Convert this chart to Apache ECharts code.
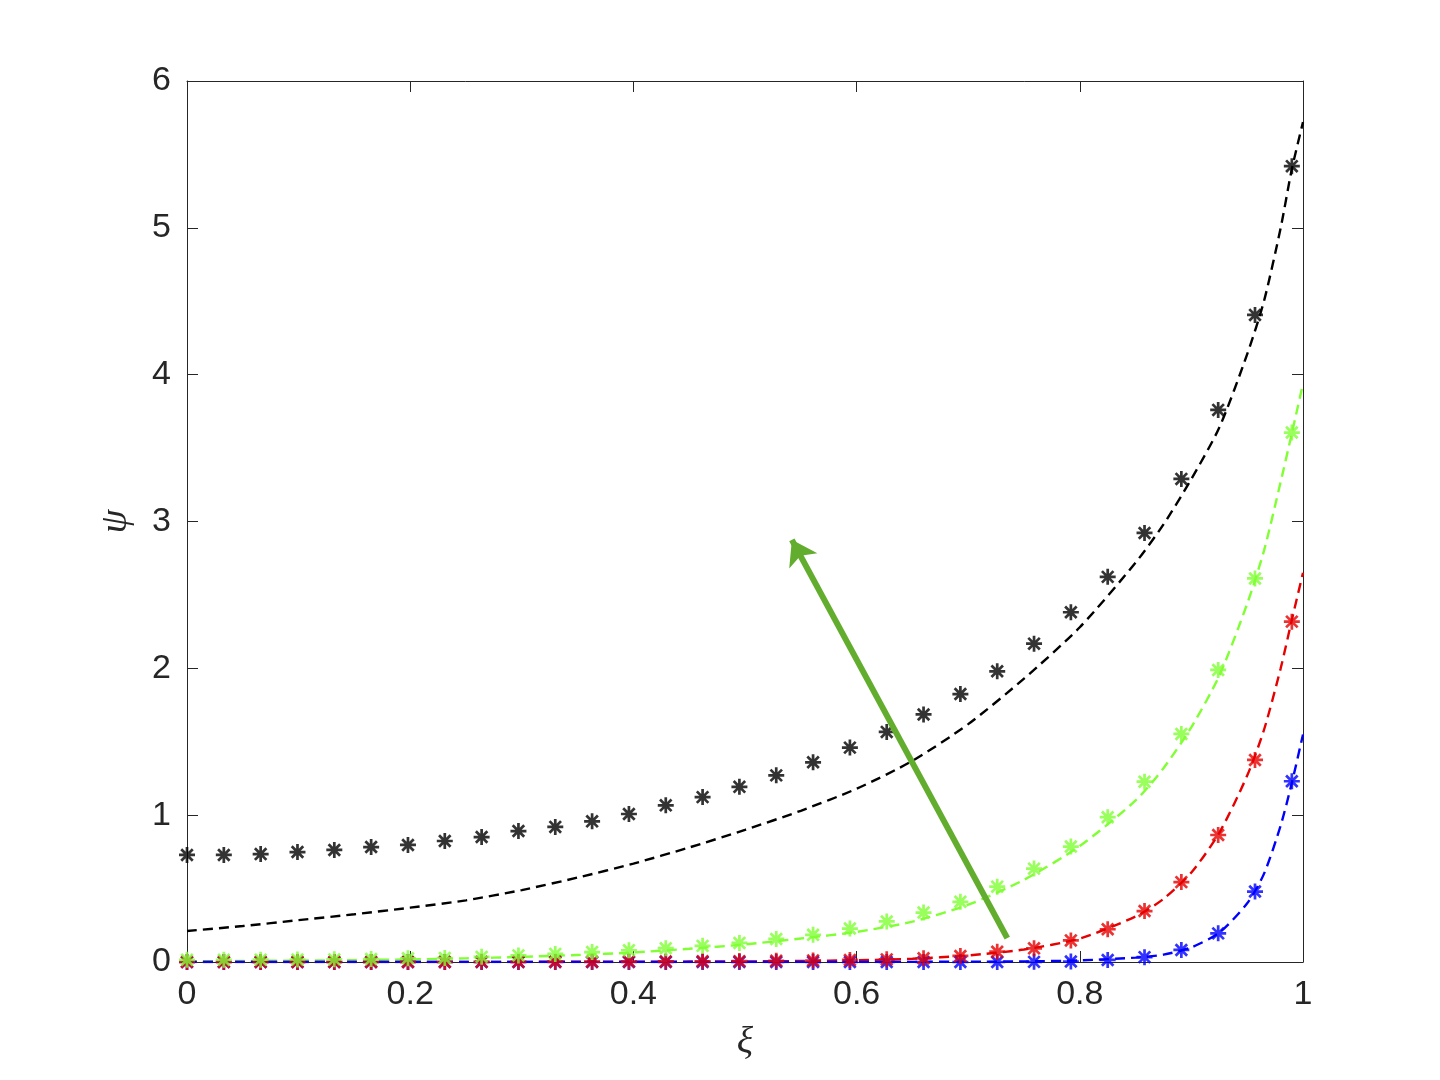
<!DOCTYPE html>
<html>
<head>
<meta charset="utf-8">
<title>psi vs xi</title>
<script src="https://cdn.jsdelivr.net/npm/echarts@6.0.0/dist/echarts.min.js"></script>
<style>
  html, body { margin: 0; padding: 0; background: #fff; }
  #main { width: 1440px; height: 1080px; }
</style>
</head>
<body>
<div id="main"></div>
<script>
// marker abscissae (numerical solution)
const xMarker = [0, 0.033, 0.066, 0.099, 0.132, 0.165, 0.198, 0.231, 0.264, 0.297, 0.33,
  0.363, 0.396, 0.429, 0.462, 0.495, 0.528, 0.561, 0.594, 0.627, 0.66,
  0.693, 0.726, 0.759, 0.792, 0.825, 0.858, 0.891, 0.924, 0.957, 0.99]

const blackMarker = [0.729, 0.729, 0.735, 0.749, 0.763, 0.783, 0.797, 0.824, 0.851, 0.892, 0.92,
  0.958, 1.008, 1.067, 1.123, 1.193, 1.271, 1.36, 1.46, 1.567, 1.686,
  1.825, 1.98, 2.168, 2.382, 2.623, 2.922, 3.29, 3.76, 4.407, 5.42]
const greenMarker = [0.015, 0.015, 0.016, 0.017, 0.018, 0.02, 0.025, 0.027, 0.035, 0.045, 0.055,
  0.068, 0.08, 0.094, 0.11, 0.13, 0.157, 0.185, 0.228, 0.276, 0.337,
  0.41, 0.513, 0.636, 0.786, 0.986, 1.228, 1.553, 1.989, 2.612, 3.606]
const redMarker = [0, 0, 0, 0, 0, 0, 0, 0, 0.001, 0.001, 0.002,
  0.002, 0.003, 0.004, 0.005, 0.006, 0.008, 0.01, 0.014, 0.018, 0.025,
  0.041, 0.07, 0.093, 0.147, 0.223, 0.347, 0.544, 0.865, 1.376, 2.318]
const blueMarker = [0, 0, 0, 0, 0, 0, 0, 0, 0, 0, 0,
  0, 0, 0, 0, 0, 0, 0, 0, 0, 0,
  0, 0, 0.001, 0.003, 0.014, 0.033, 0.082, 0.195, 0.48, 1.231]

// dashed curves (exact solution)
const xLine = [0, 0.05, 0.1, 0.15, 0.2, 0.25, 0.3, 0.35, 0.4, 0.45, 0.5, 0.55, 0.6, 0.65,
  0.7, 0.75, 0.8, 0.85, 0.875, 0.9, 0.925, 0.95, 0.965, 0.98, 0.99, 1]
const blackLine = [0.211, 0.245, 0.285, 0.325, 0.37, 0.42, 0.49, 0.575, 0.67, 0.78, 0.9, 1.03, 1.18, 1.37,
  1.62, 1.93, 2.28, 2.72, 2.98, 3.29, 3.64, 4.14, 4.5, 5.0, 5.4, 5.72]
const greenLine = [0.005, 0.007, 0.01, 0.013, 0.018, 0.025, 0.035, 0.048, 0.065, 0.09, 0.12, 0.16, 0.205, 0.275,
  0.39, 0.56, 0.79, 1.1, 1.32, 1.6, 1.95, 2.44, 2.8, 3.27, 3.6, 3.94]
const redLine = [0, 0, 0, 0, 0, 0.001, 0.001, 0.002, 0.002, 0.003, 0.004, 0.007, 0.012, 0.022,
  0.045, 0.085, 0.16, 0.31, 0.43, 0.61, 0.88, 1.27, 1.58, 2.0, 2.33, 2.65]
const blueLine = [0, 0, 0, 0, 0, 0, 0, 0, 0, 0, 0, 0, 0, 0.001,
  0.002, 0.004, 0.011, 0.03, 0.05, 0.1, 0.2, 0.4, 0.6, 0.93, 1.22, 1.55]

const xTicks = [0, 0.2, 0.4, 0.6, 0.8, 1]
const yTicks = [0, 1, 2, 3, 4, 5, 6]

// annotation arrow, tail -> head, in data units
const arrowTail = [0.735, 0.163]
const arrowHead = [0.542, 2.875]

const colors = { black: '#000000', green: '#80ff33', red: '#e60000', blue: '#0000ff' }

// asterisk marker (+ and x), filled thin bars
const star = 'path://M-1,-0.17L1,-0.17L1,0.17L-1,0.17Z' +
  'M0.17,-1L0.17,1L-0.17,1L-0.17,-1Z' +
  'M-0.6,-0.84L0.84,0.6L0.6,0.84L-0.84,-0.6Z' +
  'M0.84,-0.6L-0.6,0.84L-0.84,0.6L0.6,-0.84Z'

const pairs = (xs, ys) => xs.map((x, i) => [x, ys[i]])

const lineSeries = (data, color) => ({
  type: 'line',
  data: pairs(xLine, data),
  smooth: 0.25,
  showSymbol: false,
  lineStyle: { color: color, width: 2.4, type: [10, 6] },
  z: 2
})

const markerSeries = (data, color) => ({
  type: 'scatter',
  data: pairs(xMarker, data),
  symbol: star,
  symbolSize: 16,
  itemStyle: { color: color },
  z: 3
})

const chartBox = echarts.init(document.getElementById('main'))

const labelFont = { color: '#262626', fontSize: 34, fontFamily: 'Liberation Sans, Arial, sans-serif' }
const axisLineStyle = { color: '#262626', width: 1 }

const option = {
  backgroundColor: '#ffffff',
  animation: false,
  grid: { left: 187, right: 137, top: 81, bottom: 118, outerBoundsMode: 'none' },
  xAxis: [
    {
      type: 'value', min: 0, max: 1, interval: 0.2,
      name: 'ξ', nameLocation: 'middle', nameGap: 62,
      nameTextStyle: { fontSize: 38, fontStyle: 'italic', fontFamily: 'Liberation Serif, serif', color: '#262626' },
      axisLine: { onZero: false, lineStyle: axisLineStyle },
      axisTick: { inside: true, length: 11, lineStyle: axisLineStyle },
      axisLabel: Object.assign({ margin: 16, formatter: v => (xTicks.includes(v) ? String(v) : '') }, labelFont),
      splitLine: { show: false }
    },
    {
      type: 'value', min: 0, max: 1, interval: 0.2, position: 'top',
      axisLine: { onZero: false, lineStyle: axisLineStyle },
      axisTick: { inside: true, length: 11, lineStyle: axisLineStyle },
      axisLabel: { show: false },
      splitLine: { show: false }
    }
  ],
  yAxis: [
    {
      type: 'value', min: 0, max: 6, interval: 1,
      name: 'ψ', nameLocation: 'middle', nameGap: 52, nameRotate: 90,
      nameTextStyle: { fontSize: 38, fontStyle: 'italic', fontFamily: 'Liberation Serif, serif', color: '#262626' },
      axisLine: { onZero: false, lineStyle: axisLineStyle },
      axisTick: { inside: true, length: 11, lineStyle: axisLineStyle },
      axisLabel: Object.assign({ margin: 16, formatter: v => (yTicks.includes(v) ? String(v) : '') }, labelFont),
      splitLine: { show: false }
    },
    {
      type: 'value', min: 0, max: 6, interval: 1, position: 'right',
      axisLine: { onZero: false, lineStyle: axisLineStyle },
      axisTick: { inside: true, length: 11, lineStyle: axisLineStyle },
      axisLabel: { show: false },
      splitLine: { show: false }
    }
  ],
  series: [
    lineSeries(blackLine, colors.black),
    lineSeries(greenLine, colors.green),
    lineSeries(redLine, colors.red),
    lineSeries(blueLine, colors.blue),
    markerSeries(blackMarker, colors.black),
    markerSeries(blueMarker, colors.blue),
    markerSeries(redMarker, colors.red),
    markerSeries(greenMarker, colors.green),
    {
      type: 'lines',
      coordinateSystem: 'cartesian2d',
      symbol: ['none', 'arrow'],
      symbolSize: 24,
      lineStyle: { color: '#63ad2e', width: 6, opacity: 1 },
      data: [{ coords: [arrowTail, arrowHead] }],
      z: 4
    }
  ]
}

chartBox.setOption(option)
</script>
</body>
</html>
